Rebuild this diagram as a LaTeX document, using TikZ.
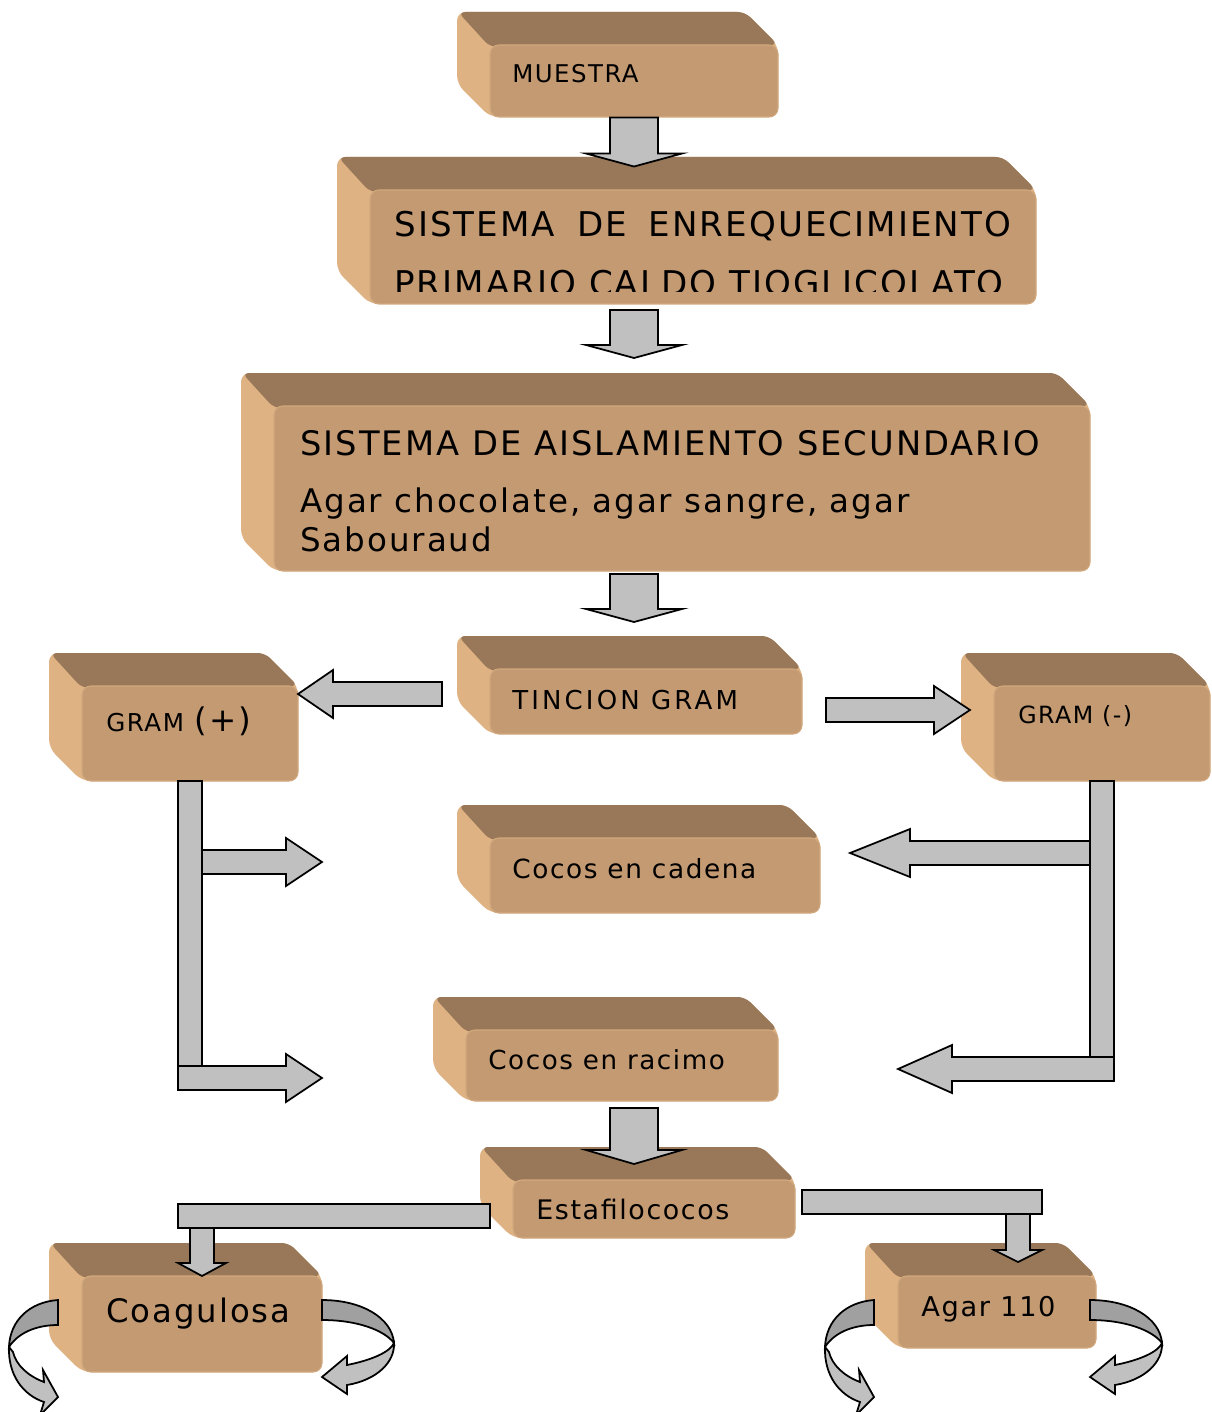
\documentclass[tikz,border=0pt]{standalone}
\usepackage{fontspec}
\setmainfont{DejaVu Sans}[LetterSpace=6]
\usetikzlibrary{fit}

\definecolor{slabtopc}{HTML}{987858}
\definecolor{slabfacec}{HTML}{C49A73}
\definecolor{slabsidec}{HTML}{DFB284}
\definecolor{slabedgec}{HTML}{D2A87E}
\definecolor{blkgray}{HTML}{C0C0C0}
\definecolor{blkdark}{HTML}{A0A0A0}

\tikzset{
    slabtop/.style={fill=slabtopc, rounded corners=4pt},
    slabside/.style={fill=slabsidec, rounded corners=5pt},
    slabface/.style={fill=slabfacec, draw=slabedgec, line width=0.6pt, rounded corners=5pt, inner sep=0pt},
    blk/.style={fill=blkgray, draw=black, line width=1pt, line join=miter},
    lbl/.style={inner sep=0pt, anchor=base west, text=black},
}

\def\dep{33}
\newcommand{\fsz}[1]{\fontsize{#1}{#1}\selectfont}
%% bevelled box: name, front top-left, front bottom-right
\newcommand{\slab}[5]{%
    \fill[slabside] (#2-\dep,#3-\dep) -- (#4-\dep,#3-\dep) -- (#4,#3) -- (#4,#5) -- (#2,#5) -- (#2-\dep,#5-\dep) -- cycle;
    \fill[slabtop] (#2-\dep+1,#3-\dep) -- (#4-\dep,#3-\dep) -- (#4,#3) -- (#2,#3+2) -- cycle;
    \node[slabface, fit={(#2,#3) (#4,#5)}] (#1) {};}
%% block arrow: start, angle, length, half shaft, half head, head length
\newcommand{\barrow}[6]{%
    \begin{scope}[shift={#1}, rotate=#2]
        \draw[blk] (0,-#4) -- ({#3-#6},-#4) -- ({#3-#6},-#5) -- (#3,0) -- ({#3-#6},#5) -- ({#3-#6},#4) -- (0,#4) -- cycle;
    \end{scope}}
%% twisted curved arrows beside a box
\newcommand{\curlright}[1]{%
    \begin{scope}[shift={#1}]
        \draw[blk, fill=blkdark] (0,0) .. controls (40,0) and (70,18) .. (72,43) .. controls (62,30) and (35,20) .. (0,20) -- cycle;
        \draw[blk] (25,65) .. controls (50,60) and (68,52) .. (72,43) .. controls (73,62) and (55,80) .. (25,85) -- (25,94) -- (0,77) -- (25,56) -- cycle;
    \end{scope}}
\newcommand{\curlleft}[1]{%
    \begin{scope}[shift={#1}]
        \draw[blk, fill=blkdark] (0,0) .. controls (-28,2) and (-48,20) .. (-49,47) .. controls (-40,33) and (-22,25) .. (0,25) -- cycle;
        \draw[blk] (-49,47) .. controls (-50,75) and (-35,95) .. (-14,102) -- (-18,115) -- (0,97) -- (-15,70) -- (-14,82) .. controls (-30,76) and (-42,65) .. (-45,52) -- cycle;
    \end{scope}}

\begin{document}
\begin{tikzpicture}[x=0.02cm, y=-0.02cm]
    \useasboundingbox (0,0) rectangle (1211,1412);
    %% boxes
    \slab{muestra}{490}{45}{778}{117}
    \slab{enriq}{370}{190}{1036}{304}
    \slab{aisla}{274}{406}{1090}{571}
    \slab{tincion}{490}{669}{802}{734}
    \slab{grampos}{82}{686}{298}{781}
    \slab{gramneg}{994}{686}{1210}{781}
    \slab{cadena}{490}{838}{820}{913}
    \slab{racimo}{466}{1030}{778}{1101}
    \slab{estaf}{513}{1180}{795}{1238}
    \slab{coag}{82}{1276}{322}{1372}
    \slab{agar}{898}{1276}{1096}{1348}

    %% labels
    \node[lbl] (tmuestra) at (512,83) {\fsz{13.9}MUESTRA};
    \node[lbl] (tenriq1) at (394,237) {\fsz{19.4}SISTEMA\hspace{12.5pt}DE\hspace{12.5pt}ENREQUECIMIENTO};
    \begin{scope}
        \clip (370,190) rectangle (1036,292);
        \node[lbl] (tenriq2) at (394,296) {\fsz{19.4}PRIMARIO CALDO TIOGLICOLATO};
    \end{scope}
    \node[lbl] (taisla1) at (300,455) {\fsz{19.2}SISTEMA DE AISLAMIENTO SECUNDARIO};
    \node[lbl] (taisla2) at (300,512) {\fsz{18.5}Agar chocolate, agar sangre, agar};
    \node[lbl] (taisla3) at (300,551) {\fsz{18.5}Sabouraud};
    \node[lbl] (ttincion) at (512,709) {\fsz{14.8}\addfontfeature{LetterSpace=12}TINCION GRAM};
    \node[lbl] (tgrampos) at (106,731) {\fsz{14}GRAM\hspace{6pt}{\fsz{18.5}(+)}};
    \node[lbl] (tgramneg) at (1018,723) {\fsz{13.5}GRAM (-)};
    \node[lbl] (tcadena) at (512,878) {\fsz{15}Cocos en cadena};
    \node[lbl] (tracimo) at (488,1069) {\fsz{14.9}Cocos en racimo};
    \node[lbl] (testaf) at (536,1219) {\fsz{15.3}Estafilococos};
    \node[lbl] (tcoag) at (106,1322) {\fsz{18.4}Coagulosa};
    \node[lbl] (tagar) at (921,1316) {\fsz{15.5}Agar 110};

    %% main column
    \barrow{(muestra.south)}{-90}{49}{24}{48}{13}
    \barrow{(634,310)}{-90}{48}{24}{48}{13}
    \barrow{(634,574)}{-90}{48}{24}{48}{13}
    \barrow{(634,1108)}{-90}{56}{24}{48}{14}
    %% gram split
    \barrow{(442,694)}{180}{144}{12}{24}{35}
    \barrow{(826,710)}{0}{144}{12}{24}{36}
    %% gram (+) branch
    \draw[blk] (178,781) rectangle (202,1066);
    \barrow{(202,862)}{0}{120}{12}{24}{36}
    \barrow{(178,1078)}{0}{144}{12}{24}{36}
    %% gram (-) branch
    \draw[blk] (1090,781) rectangle (1114,1057);
    \barrow{(1090,853)}{180}{240}{12}{24}{60}
    \barrow{(1114,1069)}{180}{216}{12}{24}{54}
    %% estafilococos split
    \draw[blk] (178,1204) rectangle (490,1228);
    \barrow{(202,1228)}{-90}{48}{12}{24}{13}
    \draw[blk] (802,1190) rectangle (1042,1214);
    \barrow{(1018,1214)}{-90}{48}{12}{24}{12}
    %% curls
    \curlleft{(58,1300)}
    \curlright{(322,1300)}
    \curlleft{(874,1300)}
    \curlright{(1090,1300)}
\end{tikzpicture}
\end{document}
